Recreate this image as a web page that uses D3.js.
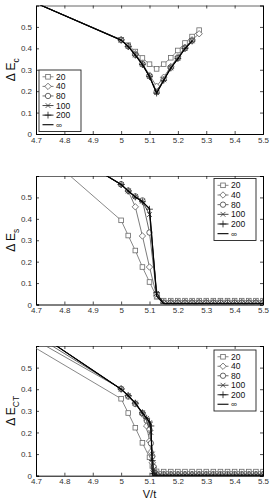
<!DOCTYPE html>
<html><head><meta charset="utf-8">
<script src="https://cdn.jsdelivr.net/npm/d3@7"></script>
<style>
html,body{margin:0;padding:0;background:#fff;}
svg{display:block;font-family:"Liberation Sans",Arial,Helvetica,sans-serif;}
</style></head>
<body>
<script>
// ---------- data ----------
const seriesNames = ["20", "40", "80", "100", "200", "\u221e"];
const xTicks = [4.7, 4.8, 4.9, 5, 5.1, 5.2, 5.3, 5.4, 5.5];
const yTicks = [0, 0.1, 0.2, 0.3, 0.4, 0.5];

// Panel 1: Delta E_c
const xsC = [4.5, 5.0, 5.025, 5.05, 5.075, 5.1, 5.125, 5.15, 5.175, 5.2, 5.225, 5.25, 5.275];
const ec20  = [0.726, 0.440, 0.415, 0.385, 0.355, 0.326, 0.304, 0.326, 0.356, 0.390, 0.425, 0.455, 0.485];
const ec40  = [0.726, 0.440, 0.410, 0.375, 0.330, 0.275, 0.223, 0.265, 0.315, 0.360, 0.405, 0.440, 0.468];
const ec80  = [0.726, 0.440, 0.410, 0.370, 0.326, 0.270, 0.196, 0.255, 0.310, 0.355, 0.400, 0.436, null];
const ec100 = [0.726, 0.439, 0.409, 0.369, 0.325, 0.269, 0.193, 0.253, 0.309, 0.353, 0.400, 0.435, null];
const ec200 = [0.726, 0.438, 0.408, 0.368, 0.324, 0.268, 0.191, 0.251, 0.308, 0.352, 0.399, 0.434, null];
const ecInf = [0.726, 0.438, 0.408, 0.368, 0.324, 0.268, 0.190, 0.250, 0.307, 0.351, 0.398, 0.434, null];

// Panel 2: Delta E_s
const xsS = [4.5, 5.0, 5.025, 5.05, 5.075, 5.1, 5.125, 5.15, 5.175, 5.2, 5.225, 5.25, 5.275, 5.3, 5.325, 5.35, 5.375, 5.4, 5.425, 5.45, 5.475, 5.5];
const es20  = [0.97, 0.393, 0.322, 0.252, 0.175, 0.105, 0.036, 0.018, 0.018, 0.018, 0.018, 0.018, 0.018, 0.018, 0.018, 0.018, 0.018, 0.018, 0.018, 0.018, 0.018, 0.018];
const es40  = [0.96, 0.560, 0.530, 0.456, 0.320, 0.175, 0.040, 0.010, 0.010, 0.010, 0.010, 0.010, 0.010, 0.010, 0.010, 0.010, 0.010, 0.010, 0.010, 0.010, 0.010, 0.010];
const es80  = [0.96, 0.562, 0.532, 0.505, 0.486, 0.336, 0.050, 0.008, 0.008, 0.008, 0.008, 0.008, 0.008, 0.008, 0.008, 0.008, 0.008, 0.008, 0.008, 0.008, 0.008, 0.008];
const es100 = [0.96, 0.560, 0.530, 0.503, 0.482, 0.420, 0.052, 0.005, 0.005, 0.005, 0.005, 0.005, 0.005, 0.005, 0.005, 0.005, 0.005, 0.005, 0.005, 0.005, 0.005, 0.005];
const es200 = [0.96, 0.560, 0.530, 0.502, 0.480, 0.445, 0.055, 0.004, 0.004, 0.004, 0.004, 0.004, 0.004, 0.004, 0.004, 0.004, 0.004, 0.004, 0.004, 0.004, 0.004, 0.004];
const esInf = [0.96, 0.560, 0.530, 0.502, 0.480, 0.448, 0.040, 0.003, 0.003, 0.003, 0.003, 0.003, 0.003, 0.003, 0.003, 0.003, 0.003, 0.003, 0.003, 0.003, 0.003, 0.003];

// Panel 3: Delta E_CT
const xsCT20 = [4.5, 5.0, 5.025, 5.05, 5.075, 5.1, 5.11, 5.125, 5.15, 5.175, 5.2, 5.225, 5.25, 5.275, 5.3, 5.325, 5.35, 5.375, 5.4, 5.425, 5.45, 5.475, 5.5];
const ect20  = [0.745, 0.356, 0.290, 0.222, 0.152, 0.085, 0.045, 0.020, 0.019, 0.019, 0.019, 0.019, 0.019, 0.019, 0.019, 0.019, 0.019, 0.019, 0.019, 0.019, 0.019, 0.019, 0.019];
const xsCT = [4.5, 5.0, 5.025, 5.05, 5.075, 5.09, 5.1, 5.105, 5.11, 5.115, 5.12, 5.125, 5.15, 5.175, 5.2, 5.225, 5.25, 5.275, 5.3, 5.325, 5.35, 5.375, 5.4, 5.425, 5.45, 5.475, 5.5];
const ect40  = [0.775, 0.402, 0.370, 0.335, 0.285, 0.230, 0.160, 0.110, 0.060, 0.025, 0.012, 0.008, 0.007, 0.007, 0.007, 0.007, 0.007, 0.007, 0.007, 0.007, 0.007, 0.007, 0.007, 0.007, 0.007, 0.007, 0.007];
const ect80  = [0.810, 0.402, 0.366, 0.332, 0.290, 0.255, 0.213, 0.150, 0.090, 0.040, 0.012, 0.006, 0.006, 0.006, 0.006, 0.006, 0.006, 0.006, 0.006, 0.006, 0.006, 0.006, 0.006, 0.006, 0.006, 0.006, 0.006];
const ect100 = [0.840, 0.400, 0.370, 0.336, 0.291, 0.265, 0.245, 0.200, 0.100, 0.030, 0.006, 0.003, 0.003, 0.003, 0.003, 0.003, 0.003, 0.003, 0.003, 0.003, 0.003, 0.003, 0.003, 0.003, 0.003, 0.003, 0.003];
const ect200 = [0.840, 0.400, 0.370, 0.336, 0.291, 0.266, 0.248, 0.230, 0.070, 0.010, 0.002, 0.002, 0.002, 0.002, 0.002, 0.002, 0.002, 0.002, 0.002, 0.002, 0.002, 0.002, 0.002, 0.002, 0.002, 0.002, 0.002];
const ectInf = [0.840, 0.400, 0.370, 0.336, 0.291, 0.266, 0.248, 0.240, 0.000, 0.000, 0.000, 0.000, 0.000, 0.000, 0.000, 0.000, 0.000, 0.000, 0.000, 0.000, 0.000, 0.000, 0.000, 0.000, 0.000, 0.000, 0.000];

// ---------- styling ----------
const styles = [
  {color: "#6a6a6a", marker: "square", width: 0.8},
  {color: "#5a5a5a", marker: "diamond", width: 0.8},
  {color: "#444", marker: "circle", width: 0.8},
  {color: "#333", marker: "cross", width: 0.9},
  {color: "#1a1a1a", marker: "plus", width: 0.9},
  {color: "#000", marker: null, width: 1.1}
];

const panels = [
  {top: 5.5, bottom: 134, ylab: "E", sub: "c",
   xs: [xsC, xsC, xsC, xsC, xsC, xsC], ys: [ec20, ec40, ec80, ec100, ec200, ecInf],
   legend: {x: 39, y: 70, w: 42, h: 61.5}},
  {top: 176, bottom: 304.5, ylab: "E", sub: "s",
   xs: [xsS, xsS, xsS, xsS, xsS, xsS], ys: [es20, es40, es80, es100, es200, esInf],
   legend: {x: 214, y: 178.5, w: 42, h: 62}},
  {top: 346, bottom: 475.7, ylab: "E", sub: "CT",
   xs: [xsCT20, xsCT, xsCT, xsCT, xsCT, xsCT], ys: [ect20, ect40, ect80, ect100, ect200, ectInf],
   legend: {x: 214, y: 350, w: 42, h: 61}}
];

const W = 272, H = 500;
const svg = d3.select("body").append("svg").attr("width", W).attr("height", H);
const x0 = 36, x1 = 263;

function drawMarker(g, type, cx, cy, color) {
  const s = g.append("g").attr("transform", `translate(${cx},${cy})`)
    .attr("fill", "none").attr("stroke", color).attr("stroke-width", 0.8);
  if (type === "square") s.append("rect").attr("x", -2.3).attr("y", -2.3).attr("width", 4.6).attr("height", 4.6).attr("fill", "#fff");
  else if (type === "diamond") s.append("path").attr("d", "M0,-3.2L3.2,0L0,3.2L-3.2,0Z").attr("fill", "#fff");
  else if (type === "circle") s.append("circle").attr("r", 2.7).attr("fill", "#fff");
  else if (type === "cross") s.append("path").attr("d", "M-2.4,-2.4L2.4,2.4M-2.4,2.4L2.4,-2.4");
  else if (type === "plus") s.append("path").attr("d", "M-3.4,0L3.4,0M0,-3.4L0,3.4");
}

panels.forEach((p, pi) => {
  const xScale = d3.scaleLinear().domain([4.7, 5.5]).range([x0, x1]);
  const yScale = d3.scaleLinear().domain([0, 0.6]).range([p.bottom, p.top]);
  const g = svg.append("g");
  const clipId = "clip" + pi;
  svg.append("clipPath").attr("id", clipId).append("rect")
    .attr("x", x0).attr("y", p.top).attr("width", x1 - x0).attr("height", p.bottom - p.top);

  // axes (box with inward ticks)
  const axB = d3.axisBottom(xScale).tickValues(xTicks).tickSize(-3).tickPadding(3).tickFormat(d3.format("~g"));
  const axT = d3.axisTop(xScale).tickValues(xTicks).tickSize(-3).tickFormat("");
  const axL = d3.axisLeft(yScale).tickValues(yTicks).tickSize(-3).tickPadding(4).tickFormat(d3.format("~g"));
  const axR = d3.axisRight(yScale).tickValues(yTicks).tickSize(-3).tickFormat("");
  const gb = g.append("g").attr("transform", `translate(0,${p.bottom})`).call(axB);
  const gt = g.append("g").attr("transform", `translate(0,${p.top})`).call(axT);
  const gl = g.append("g").attr("transform", `translate(${x0},0)`).call(axL);
  const gr = g.append("g").attr("transform", `translate(${x1},0)`).call(axR);
  [gb, gt, gl, gr].forEach(a => {
    a.select(".domain").attr("stroke", "#000").attr("stroke-width", 1);
    a.selectAll(".tick line").attr("stroke", "#000").attr("stroke-width", 0.7);
    a.selectAll(".tick text").attr("font-size", 8).attr("fill", "#333")
      .attr("font-family", "Liberation Sans, Arial, sans-serif");
  });
  gt.select(".domain").attr("stroke", "#666");

  // series
  const plot = g.append("g").attr("clip-path", `url(#${clipId})`);
  p.ys.forEach((ys, si) => {
    const st = styles[si];
    const pts = p.xs[si].map((xv, i) => [xv, ys[i]]).filter(d => d[1] !== null);
    const line = d3.line().x(d => xScale(d[0])).y(d => yScale(d[1]));
    plot.append("path").attr("d", line(pts)).attr("fill", "none")
      .attr("stroke", st.color).attr("stroke-width", st.width);
    if (st.marker) {
      pts.forEach(d => {
        if (d[0] >= 4.7 && d[0] <= 5.5) drawMarker(plot, st.marker, xScale(d[0]), yScale(d[1]), st.color);
      });
    }
  });

  // y label
  const cy = (p.top + p.bottom) / 2;
  const t = g.append("text").attr("transform", `translate(15,${cy}) rotate(-90)`)
    .attr("text-anchor", "middle").attr("font-size", 12).attr("fill", "#111");
  t.append("tspan").text("\u0394 " + p.ylab);
  t.append("tspan").attr("font-size", 8.5).attr("dy", 3.5).text(p.sub);

  // legend
  const L = p.legend;
  const lg = g.append("g");
  lg.append("rect").attr("x", L.x).attr("y", L.y).attr("width", L.w).attr("height", L.h)
    .attr("fill", "#fff").attr("stroke", "#222").attr("stroke-width", 0.9);
  const step = (L.h - 4) / 6;
  seriesNames.forEach((nm, si) => {
    const st = styles[si];
    const yy = L.y + 2 + step * (si + 0.5);
    lg.append("line").attr("x1", L.x + 3.5).attr("x2", L.x + 14.5).attr("y1", yy).attr("y2", yy)
      .attr("stroke", st.color).attr("stroke-width", st.width);
    if (st.marker) drawMarker(lg, st.marker, L.x + 9, yy, st.color);
    lg.append("text").attr("x", L.x + 17).attr("y", yy).attr("dy", "0.35em")
      .attr("font-size", 8.5).attr("fill", "#111").text(nm);
  });
});

// x label
svg.append("text").attr("x", (x0 + x1) / 2).attr("y", 497.5).attr("text-anchor", "middle")
  .attr("font-size", 11).attr("fill", "#111").text("V/t");
</script>
</body></html>
